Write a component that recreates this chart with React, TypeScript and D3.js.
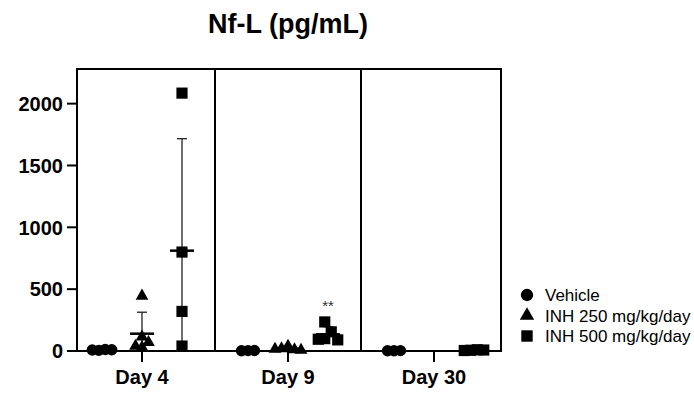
import * as d3 from "d3";

const days = ["Day 4", "Day 9", "Day 30"];
const groups = ["Vehicle", "INH 250 mg/kg/day", "INH 500 mg/kg/day"];
const yTicks = [0, 500, 1000, 1500, 2000];

// values per day (Day 4, Day 9, Day 30)
const vehicle = [[5, 12, 8, 10], [3, 4, 2], [2, 3, 2]];
const inh250 = [[445, 115, 70, 30, 40], [40, 12, 20, 8, 15], []];
const inh500 = [[2085, 800, 320, 40], [235, 155, 100, 95, 90], [6, 10, 4, 8]];
const series = [vehicle, inh250, inh500];
const shapes = [d3.symbolCircle, d3.symbolTriangle, d3.symbolSquare];
const sizes = [100, 70, 125];
const stars = [{ day: "Day 9", group: 2, label: "**" }];

const W = 694;
const H = 394;
const font = "'Liberation Sans', Arial, Helvetica, sans-serif";

const x = d3.scalePoint<string>().domain(days).range([142, 434]);
const gx = d3.scaleLinear().domain([0, 2]).range([-40, 40]);
const y = d3.scaleLinear().domain([0, 2280]).range([351, 69]);

const left = x(days[0])! - 65;
const right = x(days[days.length - 1])! + 67;
const top = y.range()[1];
const bottom = y.range()[0];

// spread overlapping points sideways, GraphPad style
function swarm(vals: number[]) {
  const placed: { off: number; py: number }[] = [];
  const step = 6.5;
  vals.forEach((v) => {
    const py = y(v);
    let k = 0;
    let off = 0;
    for (;;) {
      off = k === 0 ? 0 : (k % 2 === 1 ? 1 : -1) * Math.ceil(k / 2) * step;
      const hit = placed.some((p) => Math.abs(p.off - off) < step && Math.abs(p.py - py) < 10);
      if (!hit) break;
      k++;
    }
    placed.push({ off, py });
  });
  const offs = placed.map((p) => p.off);
  const shift = (d3.min(offs)! + d3.max(offs)!) / 2;
  return vals.map((v, i) => ({ v, dx: placed[i].off - shift }));
}

export default function App() {
  const sym = (i: number, s = sizes[i]) => d3.symbol().type(shapes[i]).size(s)()!;
  const dividers = days.slice(1).map((d, i) => (x(days[i])! + x(d)!) / 2);

  return (
    <svg width={W} height={H} style={{ position: "absolute", left: 0, top: 0, background: "#fff" }} fontFamily={font}>
      <text x={288} y={33} textAnchor="middle" fontSize={27} fontWeight="bold">
        Nf-L (pg/mL)
      </text>

      {/* data */}
      {days.map((day, di) =>
        series.map((s, gi) => {
          const vals = s[di];
          if (!vals.length) return null;
          const cx = x(day)! + gx(gi);
          const mean = d3.mean(vals)!;
          const sd = vals.length > 1 ? d3.deviation(vals)! : 0;
          const hi = y(mean + sd);
          const lo = y(Math.max(0, mean - sd));
          return (
            <g key={day + gi}>
              <line x1={cx} x2={cx} y1={hi} y2={lo} stroke="#222" strokeWidth={1.3} />
              <line x1={cx - 5} x2={cx + 5} y1={hi} y2={hi} stroke="#222" strokeWidth={1.3} />
              <line x1={cx - 12} x2={cx + 12} y1={y(mean)} y2={y(mean)} stroke="#000" strokeWidth={2.5} />
              {swarm(vals).map((p, i) => (
                <path key={i} d={sym(gi)} transform={`translate(${cx + p.dx},${y(p.v)})`} fill="#000" />
              ))}
            </g>
          );
        })
      )}

      {stars.map((s) => {
        const vals = series[s.group][days.indexOf(s.day)];
        return (
          <text key={s.day} x={x(s.day)! + gx(s.group)} y={y(d3.max(vals)!) - 11} textAnchor="middle" fontSize={15} fill="#333">
            {s.label}
          </text>
        );
      })}

      {/* frame */}
      <rect x={left} y={top} width={right - left} height={bottom - top} fill="none" stroke="#000" strokeWidth={2} />
      {dividers.map((dx) => (
        <line key={dx} x1={dx} x2={dx} y1={top} y2={bottom} stroke="#000" strokeWidth={2} />
      ))}

      {/* y axis */}
      {yTicks.map((t) => (
        <g key={t}>
          <line x1={left - 10} x2={left} y1={y(t)} y2={y(t)} stroke="#000" strokeWidth={2} />
          <text x={left - 14} y={y(t)} dy="0.36em" textAnchor="end" fontSize={20} fontWeight="bold">
            {t}
          </text>
        </g>
      ))}

      {/* x axis */}
      {days.map((d) => (
        <g key={d}>
          <line x1={x(d)} x2={x(d)} y1={bottom} y2={bottom + 11} stroke="#000" strokeWidth={2} />
          <text x={x(d)} y={384} textAnchor="middle" fontSize={20} fontWeight="bold">
            {d}
          </text>
        </g>
      ))}

      {/* legend */}
      {groups.map((g, i) => (
        <g key={g} transform={`translate(527,${295 + i * 20.5})`}>
          <path d={sym(i, [120, 90, 130][i])} fill="#000" />
          <text x={18} y={0} dy="0.36em" fontSize={17}>
            {g}
          </text>
        </g>
      ))}
    </svg>
  );
}
